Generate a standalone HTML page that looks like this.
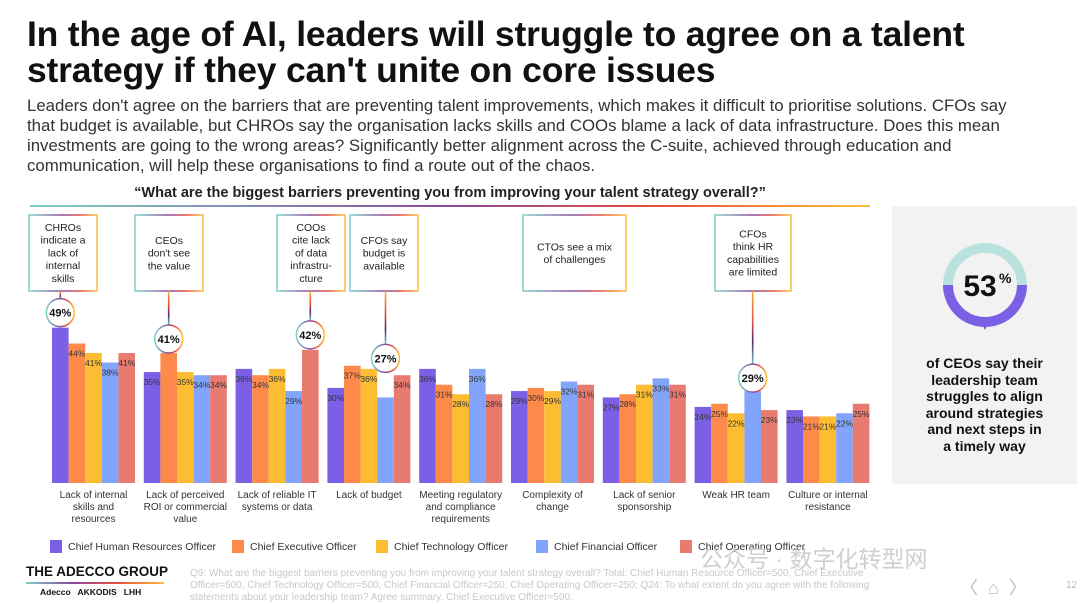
<!DOCTYPE html>
<html><head><meta charset="utf-8"><style>
body{margin:0;width:1080px;height:601px;overflow:hidden;background:#fff;font-family:"Liberation Sans","Noto Sans CJK SC",sans-serif;position:relative;color:#222}
.abs{position:absolute}
h1{position:absolute;left:27px;top:16px;margin:0;font-size:35.5px;line-height:36px;font-weight:bold;color:#111;letter-spacing:-0.2px;white-space:nowrap}
.sub{left:27px;top:96px;width:1000px;font-size:16.8px;line-height:20px;color:#333}
.q{left:0;width:900px;top:185px;text-align:center;font-weight:bold;font-size:14.5px;color:#222}
.panel{left:892px;top:206px;width:185px;height:278px;background:#f2f2f2}
.ptext{left:892px;top:355px;width:185px;text-align:center;font-weight:bold;font-size:14px;line-height:16.5px;color:#111}
.leg{top:540px;font-size:10.5px;color:#333;display:flex;align-items:center}
.leg i{display:inline-block;width:12px;height:13px;margin-right:6px}
.foot{left:190px;top:568px;width:730px;font-size:10px;line-height:12px;color:#c8c8c8}
</style></head><body>
<h1>In the age of AI, leaders will struggle to agree on a talent<br>strategy if they can't unite on core issues</h1>
<div class="abs sub">Leaders don't agree on the barriers that are preventing talent improvements, which makes it difficult to prioritise solutions. CFOs say that budget is available, but CHROs say the organisation lacks skills and COOs blame a lack of data infrastructure. Does this mean investments are going to the wrong areas? Significantly better alignment across the C-suite, achieved through education and communication, will help these organisations to find a route out of the chaos.</div>
<div class="abs q">“What are the biggest barriers preventing you from improving your talent strategy overall?”</div>
<svg class="abs" style="left:0;top:0" width="1080" height="601">
<defs>
<linearGradient id="gl" x1="0" x2="1"><stop offset="0" stop-color="#7fcfc9"/><stop offset="0.5" stop-color="#8a4a9c"/><stop offset="0.75" stop-color="#e94e3c"/><stop offset="1" stop-color="#fbbf3a"/></linearGradient>
<linearGradient id="gv" x1="0" x2="0" y1="0" y2="1"><stop offset="0" stop-color="#fbb03b"/><stop offset="0.4" stop-color="#e94e3c"/><stop offset="0.7" stop-color="#5a2a6c"/><stop offset="1" stop-color="#6cc5c0"/></linearGradient>
</defs>
<rect x="30" y="205" width="840" height="2" fill="url(#gl)"/>
<g id="g"></g>
</svg>
<div class="abs panel"></div>
<svg class="abs" style="left:940px;top:240px" width="90" height="100">
<circle cx="45" cy="45" r="37" fill="none" stroke="#b9e2de" stroke-width="10"/>
<path d="M8 45 A37 37 0 0 0 82 45" fill="none" stroke="#7b60e6" stroke-width="10"/>
<polygon points="40,80 50,80 45,90" fill="#7b60e6"/>
<text x="40" y="56" text-anchor="middle" font-size="30" font-weight="bold" font-family="Liberation Sans" fill="#111">53</text>
<text x="59" y="43" font-size="14" font-weight="bold" font-family="Liberation Sans" fill="#111">%</text>
</svg>
<div class="abs ptext">of CEOs say their<br>leadership team<br>struggles to align<br>around strategies<br>and next steps in<br>a timely way</div>
<div class="abs leg" style="left:50px"><i style="background:#7b60e6"></i>Chief Human Resources Officer</div>
<div class="abs leg" style="left:232px"><i style="background:#fd8a4b"></i>Chief Executive Officer</div>
<div class="abs leg" style="left:376px"><i style="background:#fdbd33"></i>Chief Technology Officer</div>
<div class="abs leg" style="left:536px"><i style="background:#82a4fb"></i>Chief Financial Officer</div>
<div class="abs leg" style="left:680px"><i style="background:#e87a70"></i>Chief Operating Officer</div>
<div class="abs" style="left:26px;top:564px;font-weight:bold;font-size:13.5px;color:#111">THE ADECCO GROUP</div>
<div class="abs" style="left:26px;top:582px;width:138px;height:2px;background:linear-gradient(90deg,#7fcfc9,#8a4a9c,#e94e3c,#fbbf3a)"></div>
<div class="abs" style="left:40px;top:587px;font-size:8.5px;font-weight:bold;color:#111">Adecco &nbsp; AKKODIS &nbsp; LHH</div>
<div class="abs foot">Q9: What are the biggest barriers preventing you from improving your talent strategy overall? Total: Chief Human Resource Officer=500, Chief Executive Officer=500, Chief Technology Officer=500, Chief Financial Officer=250, Chief Operating Officer=250; Q24: To what extent do you agree with the following statements about your leadership team? Agree summary. Chief Executive Officer=500.</div>
<div class="abs" style="left:700px;top:540px;font-size:23px;color:#cfcfcf">公众号 · 数字化转型网</div>
<div class="abs" style="left:960px;top:574px;font-size:18px;color:#bbb">〈 &nbsp;⌂ &nbsp;〉</div>
<div class="abs" style="left:1066px;top:580px;font-size:10px;color:#bbb">12</div>
<script>
const categories=[["Lack of internal","skills and","resources"],["Lack of perceived","ROI or commercial","value"],["Lack of reliable IT","systems or data"],["Lack of budget"],["Meeting regulatory","and compliance","requirements"],["Complexity of","change"],["Lack of senior","sponsorship"],["Weak HR team"],["Culture or internal","resistance"]];
const chro=[49,35,36,30,36,29,27,24,23];
const ceo=[44,41,34,37,31,30,28,25,21];
const cto=[41,35,36,36,28,29,31,22,21];
const cfo=[38,34,29,27,36,32,33,29,22];
const coo=[41,34,42,34,28,31,31,23,25];
const highlightSeries=[0,1,4,3,-1,-1,-1,3,-1];
const callouts=[["CHROs","indicate a","lack of","internal","skills"],["CEOs","don't see","the value"],["COOs","cite lack","of data","infrastru-","cture"],["CFOs say","budget is","available"],["CTOs see a mix","of challenges"],["CFOs","think HR","capabilities","are limited"]];
const calloutGroup=[0,1,2,3,5,7];
const series=[chro,ceo,cto,cfo,coo];
const colors=["#7b60e6","#fd8a4b","#fdbd33","#82a4fb","#e87a70"];
const NS="http://www.w3.org/2000/svg";
const g=document.getElementById('g');
const base=483,ppv=3.17,x0=52,gstep=91.8,bw=16.6;
const y=v=>base-v*ppv, x=(i,s)=>x0+i*gstep+s*bw;
function mk(t,a,p){const e=document.createElementNS(NS,t);for(const k in a)e.setAttribute(k,a[k]);(p||g).appendChild(e);return e;}
const boxX=[29,135,277,350,523,715],boxW=[68,68,68,68,103,76],lift=[15,14,15,39,0,13];
categories.forEach((c,i)=>{
 series.forEach((s,j)=>{
  const r=mk('rect',{x:x(i,j),y:y(s[i]),width:bw,height:s[i]*ppv,fill:colors[j]});
  
  
  if(highlightSeries[i]!==j){
   const t=mk('text',{x:x(i,j)+bw/2,y:y(s[i])+13,'text-anchor':'middle','font-size':'8.5','font-family':'Liberation Sans',fill:'#333'});
   t.textContent=s[i]+'%';
   
   
  }
 });
 const cx=x0+i*gstep+bw*2.5;
 c.forEach((l,k)=>{const t=mk('text',{x:cx,y:498+k*12,'text-anchor':'middle','font-size':'10','font-family':'Liberation Sans',fill:'#333'});t.textContent=l;
  
  });
});
callouts.forEach((lines,n)=>{
 const gi=calloutGroup[n],bx=boxX[n],w=boxW[n],top=215,h=76;
 const b=mk('rect',{x:bx,y:top,width:w,height:h,fill:'#fff',stroke:'url(#gl)','stroke-width':1.5});
 
 
 const off=(5-lines.length)*6.5;
 lines.forEach((l,k)=>{const t=mk('text',{x:bx+w/2,y:top+16+off+k*12.7,'text-anchor':'middle','font-size':'10.5','font-family':'Liberation Sans',fill:'#222'});t.textContent=l;
  
  });
 const sj=highlightSeries[gi];
 if(sj>=0){
  const v=series[sj][gi],cx=x(gi,sj)+bw/2,cy=y(v)-lift[n];
  mk('rect',{x:cx-0.8,y:top+h,width:1.6,height:Math.max(0,cy-14-top-h),fill:'url(#gv)'});
  const c=mk('circle',{cx:cx,cy:cy,r:14,fill:'#fff',stroke:'url(#gl)','stroke-width':1.5});
  
  
  const t=mk('text',{x:cx,y:cy+4,'text-anchor':'middle','font-size':'11','font-weight':'bold','font-family':'Liberation Sans',fill:'#111'});t.textContent=v+'%';
  
  
 }
});
</script>
</body></html>
